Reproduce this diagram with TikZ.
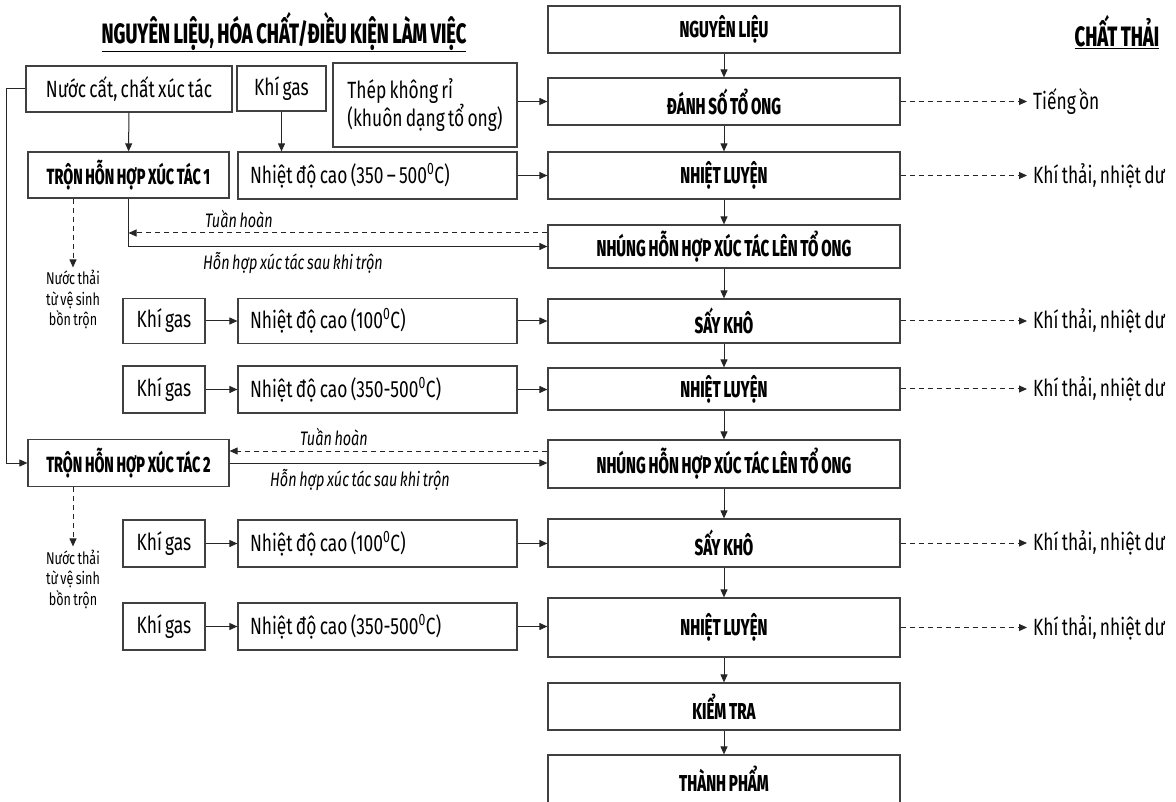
\documentclass[tikz,border=0pt]{standalone}
\usepackage{fontspec}
\setmainfont{Fira Sans}[FakeStretch=0.74, WordSpace=0.7]
\newfontfamily\headfont{Fira Sans ExtraBold}[FakeStretch=0.655, WordSpace=0.8]
\usetikzlibrary{positioning,arrows.meta}
\tikzset{
  box/.style={draw=black!75, line width=1.2pt, inner sep=0pt, minimum height=47pt},
  mainbox/.style={box, minimum width=352pt, font=\headfont\fontsize{23}{26}\selectfont},
  mixbox/.style={box, minimum width=201pt, font=\headfont\fontsize{22}{25}\selectfont},
  gasbox/.style={box, minimum width=82pt, font=\fontsize{23.5}{27}\selectfont},
  heatbox/.style={box, text width=255pt, inner xsep=12pt, align=flush left, font=\fontsize{23.5}{27}\selectfont},
  flow/.style={-{Triangle[length=8pt,width=7pt]}, line width=1pt, draw=black!85},
  dasharrow/.style={flow, dash pattern=on 5pt off 4pt},
  waste/.style={anchor=west, inner sep=6pt, font=\fontsize{23.5}{27}\selectfont},
  wash/.style={align=center, inner sep=3pt, font=\fontsize{17}{20.5}\selectfont},
  lab/.style={inner sep=2pt, font=\itshape\fontsize{19.5}{22}\selectfont},
  head/.style={font=\headfont\fontsize{28}{31}\selectfont}
}

\begin{document}
\begin{tikzpicture}[x=1pt,y=-1pt]
\useasboundingbox (0,0) rectangle (1176,802);
\node[head] (hleft) at (284,32) {\underline{NGUYÊN LIỆU, HÓA CHẤT/ĐIỀU KIỆN LÀM VIỆC}};
\node[head] (hright) at (1117,32) {\underline{CHẤT THẢI}};

\node[mainbox] (nl) at (724,29.5) {NGUYÊN LIỆU};
\node[mainbox] (dso) at (724,101.5) {ĐÁNH SỐ TỔ ONG};
\node[mainbox] (nl1) at (724,175.5) {NHIỆT LUYỆN};
\node[mainbox, minimum height=43pt] (nh1) at (724,246.5) {NHÚNG HỖN HỢP XÚC TÁC LÊN TỔ ONG};
\node[mainbox, minimum height=44pt] (sk1) at (724,321) {SẤY KHÔ};
\node[mainbox, minimum height=42pt] (nl2) at (724,389) {NHIỆT LUYỆN};
\node[mainbox, minimum height=48pt] (nh2) at (724,464) {NHÚNG HỖN HỢP XÚC TÁC LÊN TỔ ONG};
\node[mainbox, minimum height=48pt] (sk2) at (724,543) {SẤY KHÔ};
\node[mainbox, minimum height=59pt] (nl3) at (724,627.5) {NHIỆT LUYỆN};
\node[mainbox] (kt) at (724,706.5) {KIỂM TRA};
\node[mainbox, minimum height=48pt] (tp) at (724,779) {THÀNH PHẨM};

\node[box, minimum width=206pt, minimum height=46pt, font=\fontsize{23.5}{27}\selectfont] (ncat) at (129,89) {Nước cất, chất xúc tác};
\node[gasbox, minimum width=89pt, minimum height=45pt] (gas0) at (281.5,88.5) {Khí gas};
\node[box, minimum width=184pt, minimum height=84pt, align=flush left, font=\fontsize{23.5}{28}\selectfont] (thep) at (425,105) {Thép không rỉ\\(khuôn dạng tổ ong)};
\node[mixbox, minimum height=46pt] (tron1) at (128.5,175) {TRỘN HỖN HỢP XÚC TÁC 1};
\node[heatbox] (t1) at (377.5,175.5) {Nhiệt độ cao (350 – 500\textsuperscript{0}C)};
\node[mixbox] (tron2) at (128.5,463) {TRỘN HỖN HỢP XÚC TÁC 2};

\node[gasbox, minimum height=45pt] (gasA) at (164,321) {Khí gas};
\node[heatbox, minimum height=45pt] (tA) at (377.5,321) {Nhiệt độ cao (100\textsuperscript{0}C)};
\node[gasbox] (gasB) at (164,389.5) {Khí gas};
\node[heatbox] (tB) at (377.5,389.5) {Nhiệt độ cao (350-500\textsuperscript{0}C)};
\node[gasbox] (gasC) at (164,543.5) {Khí gas};
\node[heatbox] (tC) at (377.5,543.5) {Nhiệt độ cao (100\textsuperscript{0}C)};
\node[gasbox] (gasD) at (164,626.5) {Khí gas};
\node[heatbox] (tD) at (377.5,626.5) {Nhiệt độ cao (350-500\textsuperscript{0}C)};

\node[wash] (ww1) at (73,300) {Nước thải\\từ vệ sinh\\bồn trộn};
\node[wash] (ww2) at (73,579) {Nước thải\\từ vệ sinh\\bồn trộn};

\node[waste] (w1) at (1027,101.5) {Tiếng ồn};
\node[waste] (w2) at (1027,175.5) {Khí thải, nhiệt dư};
\node[waste] (w3) at (1027,321) {Khí thải, nhiệt dư};
\node[waste] (w4) at (1027,389) {Khí thải, nhiệt dư};
\node[waste] (w5) at (1027,543) {Khí thải, nhiệt dư};
\node[waste] (w6) at (1027,627.5) {Khí thải, nhiệt dư};

\draw[flow] (nl) -- (dso);
\draw[flow] (dso) -- (nl1);
\draw[flow] (nl1) -- (nh1);
\draw[flow] (nh1) -- (sk1);
\draw[flow] (sk1) -- (nl2);
\draw[flow] (nl2) -- (nh2);
\draw[flow] (nh2) -- (sk2);
\draw[flow] (sk2) -- (nl3);
\draw[flow] (nl3) -- (kt);
\draw[flow] (kt) -- (tp);

\draw[flow] (ncat) -- (tron1);
\draw[flow] (gas0.south) -- (gas0.south |- t1.north);
\draw[flow] (thep.east |- dso) -- (dso.west);
\draw[flow] (t1) -- (nl1);
\draw[flow] (gasA) -- (tA);
\draw[flow] (tA) -- (sk1);
\draw[flow] (gasB) -- (tB);
\draw[flow] (tB.east) -- (tB.east -| nl2.west);
\draw[flow] (gasC) -- (tC);
\draw[flow] (tC.east) -- (tC.east -| sk2.west);
\draw[flow] (gasD) -- (tD);
\draw[flow] (tD.east) -- (tD.east -| nl3.west);

\draw[flow] (ncat.west) -- ++(-19,0) |- (tron2.west);
\draw[flow] (tron1.south) |- (nh1.west);
\draw[dasharrow] ([yshift=13.5pt]nh1.west) -- ([yshift=13.5pt]nh1.west -| tron1.south);
\draw[flow] (tron2.east) -- (tron2.east -| nh2.west);
\draw[dasharrow] ([yshift=13pt]nh2.west) -- ([yshift=13pt]nh2.west -| tron2.east);
\node[lab, anchor=south west] (th1) at (203,230) {Tuần hoàn};
\node[lab, anchor=north west] (hh1) at (201,250) {Hỗn hợp xúc tác sau khi trộn};
\node[lab, anchor=south west] (th2) at (298,448) {Tuần hoàn};
\node[lab, anchor=north west] (hh2) at (268,467) {Hỗn hợp xúc tác sau khi trộn};

\draw[dasharrow] (ww1 |- tron1.south) -- (ww1.north);
\draw[dasharrow] (ww2 |- tron2.south) -- (ww2.north);

\draw[dasharrow] (dso) -- (w1);
\draw[dasharrow] (nl1) -- (w2);
\draw[dasharrow] (sk1) -- (w3);
\draw[dasharrow] (nl2) -- (w4);
\draw[dasharrow] (sk2) -- (w5);
\draw[dasharrow] (nl3) -- (w6);
\end{tikzpicture}
\end{document}
